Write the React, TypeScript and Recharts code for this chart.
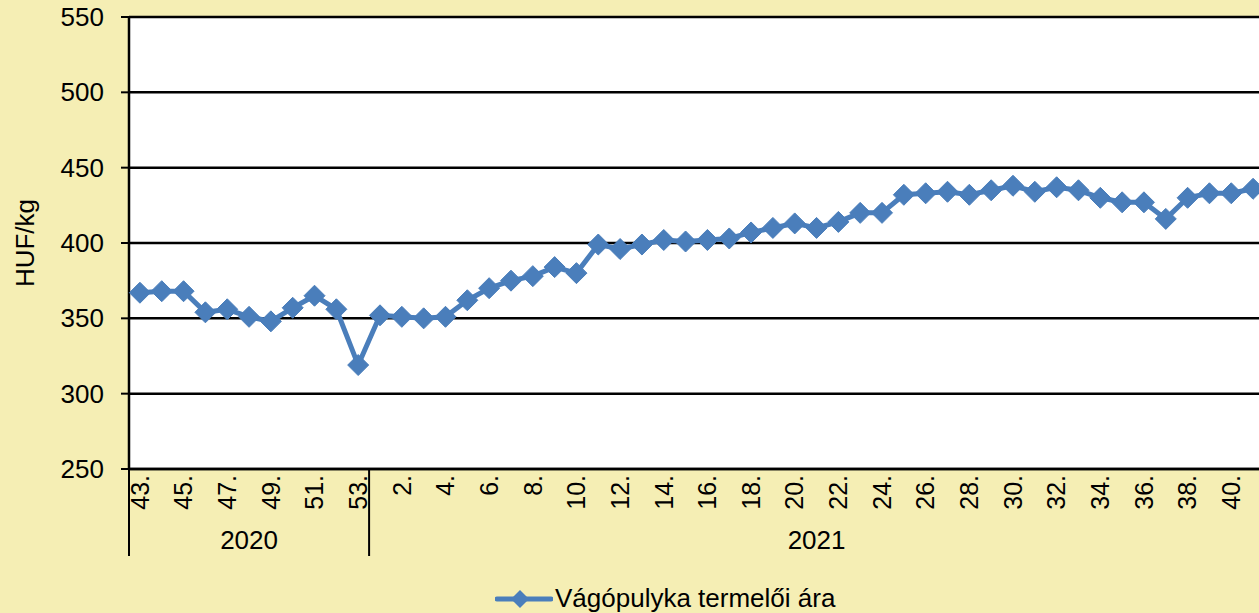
import React from 'react';
import { LineChart, Line, XAxis, YAxis, CartesianGrid, Legend, Label } from 'recharts';

// heti vágópulyka termelői ár, HUF/kg
const weeks2020 = ['43.', '44.', '45.', '46.', '47.', '48.', '49.', '50.', '51.', '52.', '53.'];
const prices2020 = [367, 368, 368, 354, 356, 351, 348, 357, 365, 356, 319];

const weeks2021 = [
  '1.', '2.', '3.', '4.', '5.', '6.', '7.', '8.', '9.', '10.',
  '11.', '12.', '13.', '14.', '15.', '16.', '17.', '18.', '19.', '20.',
  '21.', '22.', '23.', '24.', '25.', '26.', '27.', '28.', '29.', '30.',
  '31.', '32.', '33.', '34.', '35.', '36.', '37.', '38.', '39.', '40.', '41.',
];
const prices2021 = [
  352, 351, 350, 351, 362, 370, 375, 378, 384, 380,
  399, 396, 399, 402, 401, 402, 403, 407, 410, 413,
  410, 414, 420, 420, 432, 433, 434, 432, 435, 438,
  434, 437, 435, 430, 427, 427, 416, 430, 433, 433, 436,
];

const years = ['2020', '2021'];
const yTicks = [250, 300, 350, 400, 450, 500, 550];
const seriesName = 'Vágópulyka termelői ára';

const groups = [
  { year: years[0], weeks: weeks2020, prices: prices2020 },
  { year: years[1], weeks: weeks2021, prices: prices2021 },
];

const data = groups.flatMap((g) =>
  g.weeks.map((w, i) => ({ key: `${g.year}-${w}`, week: w, year: g.year, price: g.prices[i] }))
);

// first index and middle index of every year group
const groupStarts: number[] = [];
const groupMiddles: number[] = [];
{
  let start = 0;
  groups.forEach((g) => {
    groupStarts.push(start);
    groupMiddles.push(start + Math.floor((g.weeks.length - 1) / 2));
    start += g.weeks.length;
  });
}

const FONT = '"Liberation Sans", Arial, sans-serif';
const BLUE = '#4A7EBB';
const BG = '#F5EEB4';

const CHART_W = 1264;
const CHART_H = 613;
const TOP = 17;
const PLOT_H = 452;
const Y_W = 129;
const PLOT_W = CHART_W - Y_W;
const BAND = PLOT_W / data.length;
const PLOT_BOTTOM = TOP + PLOT_H;

const YTick = (props: any) => {
  const { x, y, payload } = props;
  return (
    <text x={x} y={y} dy="0.35em" textAnchor="end" fontSize={26} fontFamily={FONT} fill="#000">
      {payload.value}
    </text>
  );
};

const XTick = (props: any) => {
  const { x, payload } = props;
  const idx = payload.index;
  const row = data[idx];
  const gi = groupMiddles.indexOf(idx);
  return (
    <g>
      {idx % 2 === 0 && (
        <text
          transform={`translate(${x},${PLOT_BOTTOM + 6}) rotate(-90)`}
          textAnchor="end"
          dy="0.35em"
          fontSize={25}
          fontFamily={FONT}
          fill="#000"
        >
          {row.week}
        </text>
      )}
      {groupStarts.includes(idx) && (
        <line
          x1={x - BAND / 2}
          x2={x - BAND / 2}
          y1={PLOT_BOTTOM}
          y2={PLOT_BOTTOM + 87}
          stroke="#000"
          strokeWidth={2}
        />
      )}
      {gi >= 0 && (
        <text x={x} y={PLOT_BOTTOM + 80} textAnchor="middle" fontSize={26} fontFamily={FONT} fill="#000">
          {groups[gi].year}
        </text>
      )}
    </g>
  );
};

const Diamond = (props: any) => {
  const { cx, cy } = props;
  if (cx == null || cy == null) return null;
  const r = 10.5;
  return (
    <polygon
      points={`${cx},${cy - r} ${cx + r},${cy} ${cx},${cy + r} ${cx - r},${cy}`}
      fill={BLUE}
      stroke={BLUE}
      strokeWidth={1}
    />
  );
};

const YTitle = (props: any) => {
  const { viewBox } = props;
  const cx = viewBox.x + 25;
  const cy = viewBox.y + viewBox.height / 2;
  return (
    <text
      transform={`translate(${cx},${cy}) rotate(-90)`}
      textAnchor="middle"
      dy="0.35em"
      fontSize={26}
      fontFamily={FONT}
      fill="#000"
    >
      HUF/kg
    </text>
  );
};

const LegendContent = () => (
  <div style={{ display: 'flex', alignItems: 'center', fontFamily: FONT, fontSize: 26, color: '#000' }}>
    <svg width={58} height={22} style={{ marginRight: 2 }}>
      <line x1={2} x2={56} y1={11} y2={11} stroke={BLUE} strokeWidth={5} strokeLinecap="round" />
      <polygon points="25,2 34,11 25,20 16,11" fill={BLUE} />
    </svg>
    <span>{seriesName}</span>
  </div>
);

export default function App() {
  return (
    <div
      style={{
        position: 'absolute',
        left: 0,
        top: 0,
        width: 1259,
        height: 613,
        overflow: 'hidden',
        background: BG,
      }}
    >
      <LineChart width={CHART_W} height={CHART_H} data={data} margin={{ top: TOP, right: 0, left: 0, bottom: 0 }}>
        <CartesianGrid vertical={false} stroke="#000" strokeWidth={2.5} fill="#fff" fillOpacity={1} />
        <XAxis
          dataKey="key"
          height={CHART_H - PLOT_BOTTOM}
          interval={0}
          tick={<XTick />}
          tickLine={false}
          tickSize={0}
          axisLine={{ stroke: '#000', strokeWidth: 2.5 }}
          padding={{ left: BAND / 2, right: BAND / 2 }}
        />
        <YAxis
          width={Y_W}
          domain={[250, 550]}
          ticks={yTicks}
          interval={0}
          tick={<YTick />}
          tickSize={8}
          tickMargin={17}
          tickLine={{ stroke: '#000', strokeWidth: 2 }}
          axisLine={{ stroke: '#000', strokeWidth: 2.5 }}
        >
          <Label content={<YTitle />} />
        </YAxis>
        <Legend
          layout="vertical"
          align="center"
          verticalAlign="middle"
          wrapperStyle={{ left: 495, top: 583, width: 420, height: 30 }}
          content={<LegendContent />}
        />
        <Line
          type="linear"
          dataKey="price"
          name={seriesName}
          stroke={BLUE}
          strokeWidth={5}
          dot={<Diamond />}
          activeDot={false}
          isAnimationActive={false}
        />
      </LineChart>
    </div>
  );
}
